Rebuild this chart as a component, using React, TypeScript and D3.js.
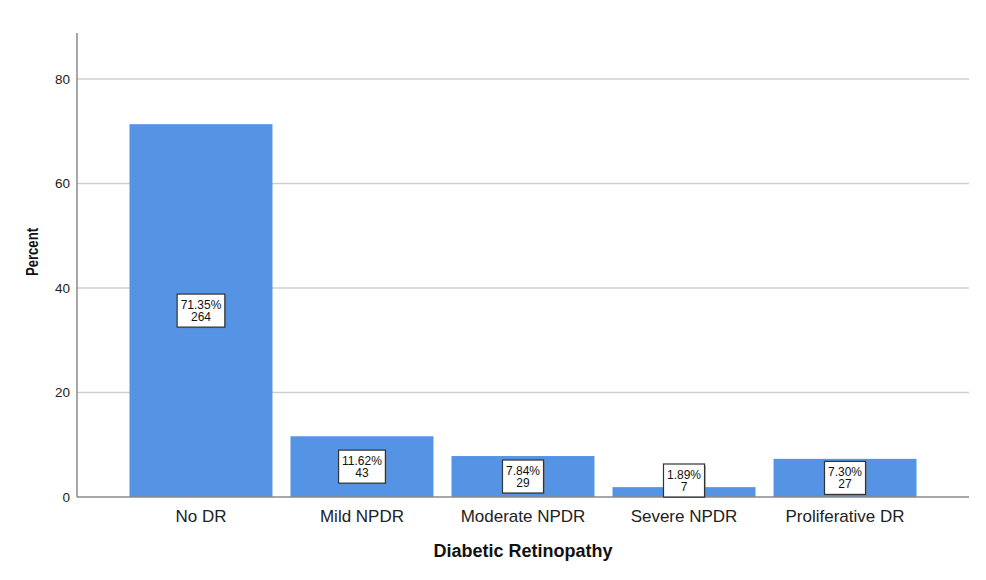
import React, { useEffect, useRef } from "react";
import * as d3 from "d3";

const categories = ["No DR", "Mild NPDR", "Moderate NPDR", "Severe NPDR", "Proliferative DR"];
const percents = [71.35, 11.62, 7.84, 1.89, 7.3];
const counts = [264, 43, 29, 7, 27];
const yTicks = [0, 20, 40, 60, 80];

const W = 986;
const H = 580;
const FONT = "'Liberation Sans', Arial, sans-serif";

export default function App() {
  const ref = useRef<SVGSVGElement>(null);

  useEffect(() => {
    const svg = d3.select(ref.current);
    svg.selectAll("*").remove();

    const left = 77, right = 969, top = 33, bottom = 497;
    const x = d3.scaleBand<string>().domain(categories).range([left, right]).paddingInner(0.112).paddingOuter(0.326);
    const y = d3.scaleLinear().domain([0, 88.8]).range([bottom, top]);

    // gridlines
    svg.append("g")
      .selectAll("line")
      .data(yTicks.filter((t) => t > 0))
      .join("line")
      .attr("x1", left)
      .attr("x2", right)
      .attr("y1", (d) => y(d))
      .attr("y2", (d) => y(d))
      .attr("stroke", "#cfcfcf")
      .attr("stroke-width", 1.5);

    // tick labels
    svg.append("g")
      .selectAll("text")
      .data(yTicks)
      .join("text")
      .attr("x", 70)
      .attr("y", (d) => y(d))
      .attr("dy", "0.36em")
      .attr("text-anchor", "end")
      .attr("font-family", FONT)
      .attr("font-size", 13.5)
      .attr("fill", "#222")
      .text((d) => String(d));

    // bars
    svg.append("g")
      .selectAll("rect")
      .data(categories)
      .join("rect")
      .attr("x", (d) => x(d)!)
      .attr("width", x.bandwidth())
      .attr("y", (_d, i) => y(percents[i]))
      .attr("height", (_d, i) => y(0) - y(percents[i]))
      .attr("fill", "#5594e4");

    // axes lines
    svg.append("line")
      .attr("x1", left).attr("x2", right)
      .attr("y1", bottom).attr("y2", bottom)
      .attr("stroke", "#8a8a8a").attr("stroke-width", 1.5);
    svg.append("line")
      .attr("x1", left).attr("x2", left)
      .attr("y1", top).attr("y2", bottom)
      .attr("stroke", "#8a8a8a").attr("stroke-width", 1.5);

    // category labels
    svg.append("g")
      .selectAll("text")
      .data(categories)
      .join("text")
      .attr("x", (d) => x(d)! + x.bandwidth() / 2)
      .attr("y", 522)
      .attr("text-anchor", "middle")
      .attr("font-family", FONT)
      .attr("font-size", 17)
      .attr("fill", "#222")
      .text((d) => d);

    // value label boxes
    const boxH = 33;
    categories.forEach((c, i) => {
      const cx = x(c)! + x.bandwidth() / 2;
      let cy = (y(0) + y(percents[i])) / 2;
      if (cy + boxH / 2 > bottom) cy = bottom - boxH / 2;
      const g = svg.append("g");
      const shadow = g.append("rect");
      const rect = g.append("rect");
      const t1 = g.append("text")
        .attr("x", cx).attr("y", cy - 2)
        .attr("text-anchor", "middle")
        .attr("font-family", FONT).attr("font-size", 12).attr("fill", "#111")
        .text(percents[i].toFixed(2) + "%");
      const t2 = g.append("text")
        .attr("x", cx).attr("y", cy + 10.5)
        .attr("text-anchor", "middle")
        .attr("font-family", FONT).attr("font-size", 12).attr("fill", "#111")
        .text(String(counts[i]));
      const w = Math.max((t1.node() as SVGTextElement).getComputedTextLength(), (t2.node() as SVGTextElement).getComputedTextLength()) + 7;
      shadow.attr("x", cx - w / 2 + 1).attr("y", cy - boxH / 2 + 1).attr("width", w).attr("height", boxH)
        .attr("fill", "#777");
      rect.attr("x", cx - w / 2).attr("y", cy - boxH / 2).attr("width", w).attr("height", boxH)
        .attr("fill", "#fff").attr("stroke", "#333").attr("stroke-width", 1.2);
    });

    // axis titles
    svg.append("text")
      .attr("x", (left + right) / 2)
      .attr("y", 557)
      .attr("text-anchor", "middle")
      .attr("font-family", FONT)
      .attr("font-weight", "bold")
      .attr("font-size", 18)
      .attr("fill", "#111")
      .text("Diabetic Retinopathy");

    svg.append("text")
      .attr("transform", "translate(38,252) rotate(-90)")
      .attr("text-anchor", "middle")
      .attr("font-family", FONT)
      .attr("font-weight", "bold")
      .attr("font-size", 16)
      .attr("textLength", 48)
      .attr("lengthAdjust", "spacingAndGlyphs")
      .attr("fill", "#111")
      .text("Percent");
  }, []);

  return (
    <svg
      ref={ref}
      width={W}
      height={H}
      style={{ position: "absolute", left: 0, top: 0, background: "#fff" }}
    />
  );
}
